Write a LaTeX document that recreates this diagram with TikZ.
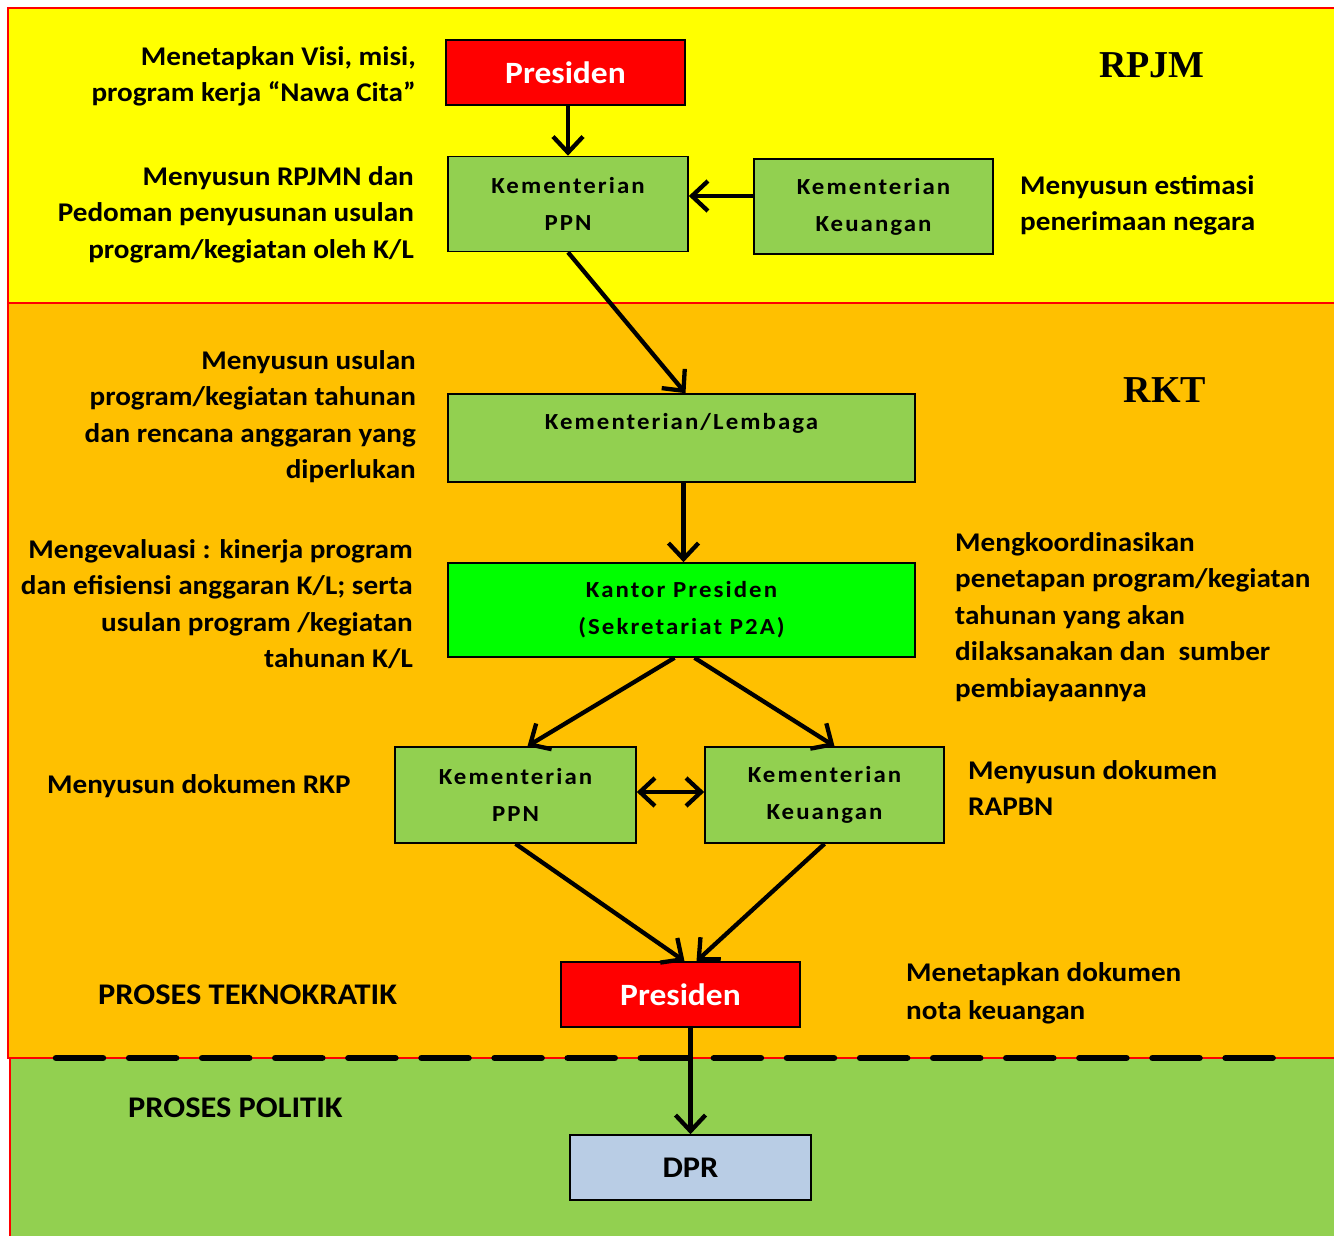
\documentclass[tikz,border=0pt]{standalone}
\usepackage{fontspec}
\setmainfont{Carlito}[FakeStretch=1.08]
\newfontfamily\boxfont{Carlito}[FakeStretch=1.08,LetterSpace=9]
\newfontfamily\titlefont{Liberation Serif}
\usetikzlibrary{arrows.meta}
\definecolor{bandyellow}{HTML}{FFFF00}
\definecolor{bandorange}{HTML}{FFC000}
\definecolor{bandgreen}{HTML}{92D050}
\definecolor{boxgreen}{HTML}{92D050}
\definecolor{brightgreen}{HTML}{00FF00}
\definecolor{presred}{HTML}{FF0000}
\definecolor{dprblue}{HTML}{B9CDE5}
\begin{document}
\begin{tikzpicture}[x=1pt,y=-1pt,
  band/.style={draw=red, line width=1.2pt},
  box/.style={draw=black, line width=1.6pt, inner sep=0pt, align=center,
    font={\boxfont\bfseries\fontsize{23}{37}\selectfont}},
  greenbox/.style={box, fill=boxgreen, minimum width=240pt, minimum height=95pt},
  presbox/.style={box, fill=presred, text=white, minimum width=239pt, minimum height=65pt,
    font={\bfseries\fontsize{31}{37}\selectfont}},
  note/.style={inner sep=0pt, font={\bfseries\fontsize{27}{36.5}\selectfont}},
  title/.style={inner sep=0pt, font={\titlefont\bfseries\fontsize{38}{40}\selectfont}},
  arr/.style={line width=4.3pt, -{Straight Barb[length=16pt,width=30pt]}},
  dblarr/.style={line width=4.3pt, {Straight Barb[length=15pt,width=28pt]}-{Straight Barb[length=15pt,width=28pt]}}
]
\path[use as bounding box] (0,0) rectangle (1334,1236);
\clip (0,0) rectangle (1334,1236);
\fill[white] (0,0) rectangle (1334,1236);

% bands
\draw[band, fill=bandyellow] (8,8) rectangle (1345,303);
\draw[band, fill=bandorange] (8,303) rectangle (1345,1058);
\draw[band, fill=bandgreen] (10,1058) rectangle (1345,1250);
\draw[line width=6.5pt, line cap=round, dash pattern=on 47pt off 26.1pt] (56,1058) -- (1274,1058);

% titles
\node[title] (rpjm) at (1152,65) {RPJM};
\node[title] (rkt) at (1165,390) {RKT};

% boxes
\node[presbox] (pres1) at (565.5,72.5) {Presiden};
\node[greenbox] (ppn1) at (568,204) {Kementerian\\PPN};
\node[greenbox, minimum width=239pt] (keu1) at (873.5,206.5) {Kementerian\\Keuangan};
\node[greenbox, minimum width=467pt, minimum height=88pt, text depth=34pt] (kl) at (681.5,438) {Kementerian/Lembaga};
\node[box, fill=brightgreen, minimum width=467pt, minimum height=94pt] (kantor) at (681.5,610) {Kantor Presiden\\(Sekretariat P2A)};
\node[greenbox, minimum width=241pt, minimum height=96pt] (ppn2) at (515.5,795) {Kementerian\\PPN};
\node[greenbox, minimum width=239pt, minimum height=96pt] (keu2) at (824.5,795) {Kementerian\\Keuangan};
\node[presbox] (pres2) at (680.5,994.5) {Presiden};
\node[box, fill=dprblue, minimum width=241pt, minimum height=65pt, font={\bfseries\fontsize{30}{36}\selectfont}] (dpr) at (690.5,1167.5) {DPR};

% connectors
\draw[arr] (ppn1.north |- pres1.south) -- (ppn1.north);
\draw[arr] ([yshift=10.5pt]keu1.west) -- ([yshift=8pt]ppn1.east);
\draw[arr] (ppn1.south) -- ([xshift=4pt]kl.north);
\draw[arr] ([xshift=2pt]kl.south) -- ([xshift=2pt]kantor.north);
\draw[arr] ([xshift=-7pt]kantor.south) -- ([xshift=12pt]ppn2.north);
\draw[arr] ([xshift=13pt]kantor.south) -- ([xshift=10pt]keu2.north);
\draw[dblarr] ([yshift=3pt]ppn2.east) -- ([yshift=3pt]keu2.west);
\draw[arr] (ppn2.south) -- ([xshift=4pt]pres2.north);
\draw[arr] (keu2.south) -- ([xshift=16pt]pres2.north);
\draw[arr] (dpr.north |- pres2.south) -- (dpr.north);

% annotations
\node[note, anchor=north east, align=right] (t1) at (416,46)
  {Menetapkan Visi, misi,\\program kerja “Nawa Cita”};
\node[note, anchor=north east, align=right] (t2) at (414,166)
  {Menyusun RPJMN dan\\Pedoman penyusunan usulan\\program/kegiatan oleh K/L};
\node[note, anchor=north west, align=left] (t3) at (1020,175)
  {Menyusun estimasi\\penerimaan negara};
\node[note, anchor=north east, align=right] (t4) at (416,350)
  {Menyusun usulan\\program/kegiatan tahunan\\dan rencana anggaran yang\\diperlukan};
\node[note, anchor=north east, align=right] (t5) at (413,539)
  {Mengevaluasi : kinerja program\\dan efisiensi anggaran K/L; serta\\usulan program /kegiatan\\tahunan K/L};
\node[note, anchor=north west, align=left] (t6) at (955,532)
  {Mengkoordinasikan\\penetapan program/kegiatan\\tahunan yang akan\\dilaksanakan dan~ sumber\\pembiayaannya};
\node[note, anchor=west] (t7) at (47,786) {Menyusun dokumen RKP};
\node[note, anchor=north west, align=left] (t8) at (968,760)
  {Menyusun dokumen\\RAPBN};
\node[note, anchor=west, font={\bfseries\fontsize{30}{36}\selectfont}] (t9) at (98,995) {PROSES TEKNOKRATIK};
\node[note, anchor=west, font={\bfseries\fontsize{30}{36}\selectfont}] (t10) at (128,1108) {PROSES POLITIK};
\node[note, anchor=north west, align=left, font={\bfseries\fontsize{27}{38}\selectfont}] (t11) at (906,962)
  {Menetapkan dokumen\\nota keuangan};
\end{tikzpicture}
\end{document}
